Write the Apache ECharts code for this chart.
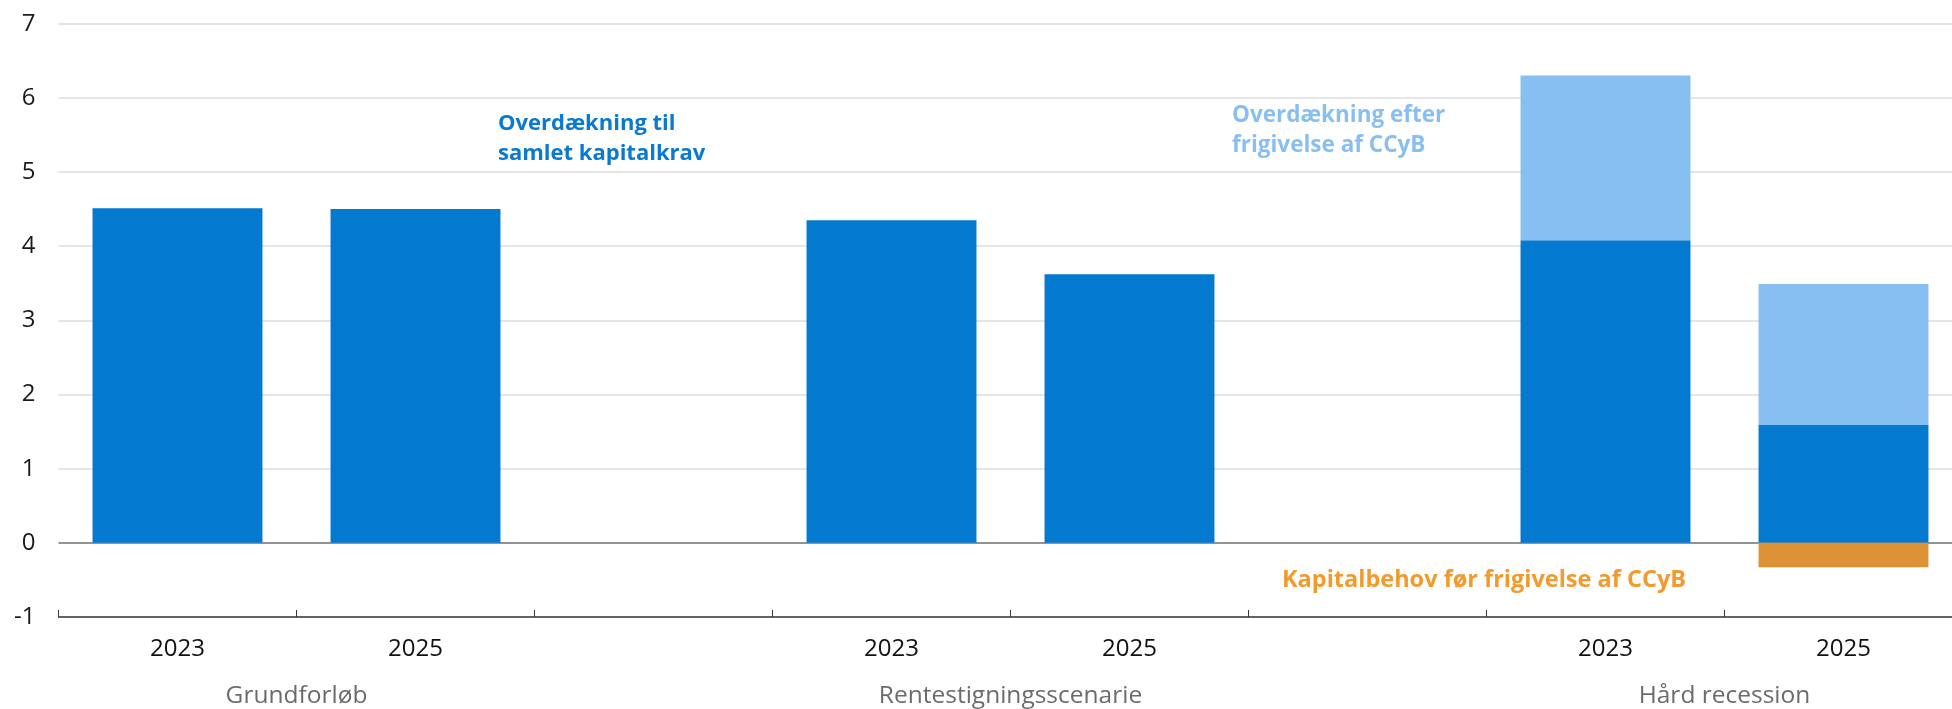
<!DOCTYPE html>
<html>
<head>
<meta charset="utf-8">
<script src="https://cdn.jsdelivr.net/npm/echarts@6/dist/echarts.min.js"></script>
<style>
html,body{margin:0;padding:0;background:#fff;overflow:hidden;width:1952px;height:709px;}
#chart{width:1966px;height:709px;}
</style>
</head>
<body>
<div id="chart"></div>
<script>
// ---- data ----
var categories = ['2023', '2025', '', '2023', '2025', '', '2023', '2025'];
var groupLabels = ['Grundforløb', 'Rentestigningsscenarie', 'Hård recession'];
var groupPositions = [1, 4, 7]; // group label sits on the boundary between its two years
var overdaekning = [4.51, 4.50, null, 4.35, 3.62, null, 4.08, 1.59];
var efterFrigivelse = [null, null, null, null, null, null, 2.22, 1.90];
var kapitalbehov = [null, null, null, null, null, null, null, -0.33];
var yTicks = [-1, 0, 1, 2, 3, 4, 5, 6, 7];
var seriesNames = ['Overdækning til\nsamlet kapitalkrav', 'Overdækning efter\nfrigivelse af CCyB', 'Kapitalbehov før frigivelse af CCyB'];

var FONT = '"Open Sans", Lato, sans-serif';
var DARK = '#0379d0', LIGHT = '#87bff3', ORANGE = '#de9236';

var chart = echarts.init(document.getElementById('chart'), null, {renderer: 'canvas'});

var gridColors = yTicks.map(function (v) { return v === 0 ? '#6f6f6f' : '#dcdcdc'; });

var option = {
  animation: false,
  backgroundColor: '#ffffff',
  grid: {left: 58.5, top: 23.7, width: 1904, height: 595, containLabel: false},
  xAxis: [{
    type: 'category',
    data: categories,
    position: 'bottom',
    boundaryGap: true,
    axisLine: {show: true, onZero: false, lineStyle: {color: '#3a3a3a', width: 1.5}},
    axisTick: {show: true, inside: true, length: 7, lineStyle: {color: '#3a3a3a', width: 1}},
    axisLabel: {interval: 0, margin: 20, fontSize: 24, color: '#111', fontFamily: FONT},
    splitLine: {show: false}
  }, {
    type: 'value',
    min: 0, max: 8, interval: 1,
    position: 'bottom',
    axisLine: {show: false, onZero: false},
    axisTick: {show: false},
    splitLine: {show: false},
    axisLabel: {
      margin: 67, fontSize: 24.5, color: '#6b6b6b', fontFamily: FONT,
      formatter: function (v) {
        var i = groupPositions.indexOf(v);
        return i >= 0 ? groupLabels[i] : '';
      }
    }
  }],
  yAxis: {
    type: 'value',
    min: -1, max: 7, interval: 1,
    axisLine: {show: false},
    axisTick: {show: false},
    axisLabel: {margin: 23, fontSize: 24, color: '#1a1a1a', fontFamily: FONT},
    splitLine: {show: true, lineStyle: {color: gridColors, width: 1.5}}
  },
  series: [{
    name: seriesNames[0], type: 'bar', stack: 'a', xAxisIndex: 0,
    data: overdaekning, barWidth: '71.4%',
    itemStyle: {color: DARK}
  }, {
    name: seriesNames[1], type: 'bar', stack: 'a', xAxisIndex: 0,
    data: efterFrigivelse, barWidth: '71.4%',
    itemStyle: {color: LIGHT}
  }, {
    name: seriesNames[2], type: 'bar', stack: 'a', xAxisIndex: 0,
    data: kapitalbehov, barWidth: '71.4%',
    itemStyle: {color: ORANGE}
  }],
  graphic: [{
    type: 'text', left: 498, top: 109,
    style: {text: seriesNames[0], fill: '#0a79d0', font: 'bold 22px ' + FONT, lineHeight: 30}
  }, {
    type: 'text', left: 1232, top: 101,
    style: {text: seriesNames[1], fill: '#88bff3', font: 'bold 22.5px ' + FONT, lineHeight: 30}
  }, {
    type: 'text', left: 1282, top: 565,
    style: {text: seriesNames[2], fill: '#f39a2a', font: 'bold 23.5px ' + FONT, lineHeight: 30}
  }]
};
chart.setOption(option);
</script>
</body>
</html>
